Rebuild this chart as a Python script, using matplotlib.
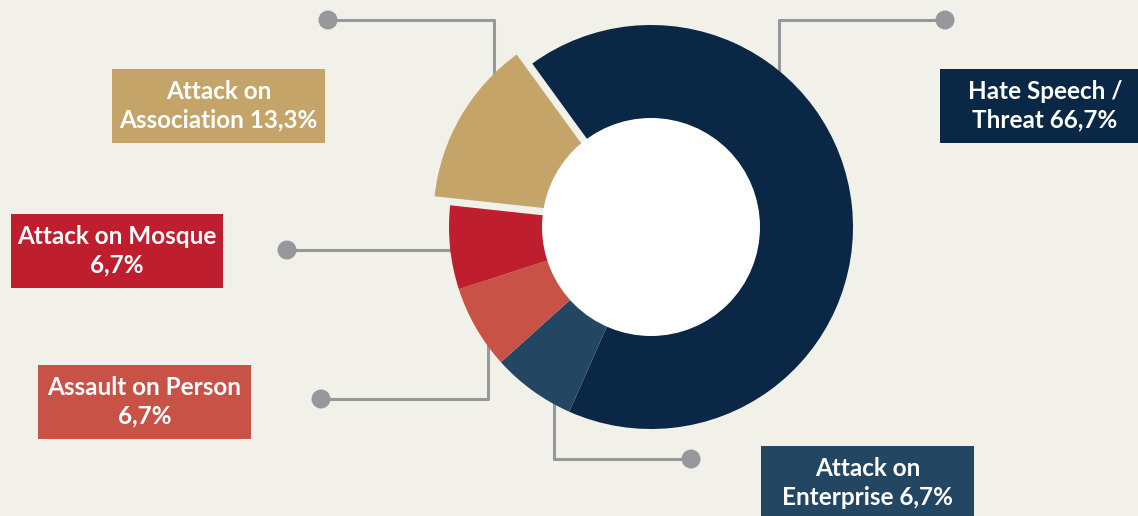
import matplotlib
matplotlib.use("Agg")
import matplotlib.pyplot as plt
from matplotlib.patches import Rectangle, Circle

# ---- data ----
categories = ["Hate Speech / Threat", "Attack on Enterprise", "Assault on Person",
              "Attack on Mosque", "Attack on Association"]
values = [66.7, 6.7, 6.7, 6.7, 13.3]
labels = ["Hate Speech /\nThreat 66,7%", "Attack on\nEnterprise 6,7%",
          "Assault on Person\n6,7%", "Attack on Mosque\n6,7%",
          "Attack on\nAssociation 13,3%"]
colors = ["#0A2745", "#234763", "#C85246", "#BE1E2D", "#C4A468"]

# ---- style ----
EXPLODE_PX = [0, 0, 0, 0, 18]
W, H = 1138, 516
BG = "#F1F0E9"
GRAY = "#97989C"

fig = plt.figure(figsize=(W / 100, H / 100), dpi=100, facecolor=BG)
ax = fig.add_axes([0, 0, 1, 1])
ax.set_facecolor(BG)

def Y(y):  # image y (top-down) -> data y
    return H - y

cx, cy, R, r_in = 651, Y(227), 202, 109

ax.pie(values, colors=colors, startangle=126, counterclock=False,
       explode=EXPLODE_PX, center=(cx, cy), radius=R, frame=True,
       wedgeprops=dict(linewidth=0, zorder=3))
ax.add_patch(Circle((cx, cy), r_in, facecolor="white", edgecolor="none", zorder=4))

# connectors: polylines in image coords, dot at first point
connectors = [
    [(945, 20), (779, 20), (779, 80)],        # hate speech
    [(691, 459), (554, 459), (554, 400)],     # enterprise
    [(321, 399), (488, 399), (488, 340)],     # person
    [(287, 250), (458, 250)],                 # mosque
    [(328, 20), (494, 20), (494, 80)],        # association
]
for pts in connectors:
    xs = [p[0] for p in pts]
    ys = [Y(p[1]) for p in pts]
    ax.plot(xs, ys, color=GRAY, lw=2.2, solid_capstyle="butt", zorder=1)
    ax.add_patch(Circle((xs[0], ys[0]), 9.5, facecolor=GRAY, edgecolor="none", zorder=2))

# label boxes (image coords: x0, y0, x1, y1)
boxes = [
    (940, 69, 1150, 143),
    (761, 446, 974, 520),
    (38, 365, 251, 439),
    (11, 214, 223, 288),
    (112, 69, 325, 143),
]
for (x0, y0, x1, y1), lab, col in zip(boxes, labels, colors):
    ax.add_patch(Rectangle((x0, Y(y1)), x1 - x0, y1 - y0, facecolor=col,
                           edgecolor="none", zorder=5))
    ax.text((x0 + x1) / 2, Y((y0 + y1) / 2), lab, color="white", ha="center",
            va="center", multialignment="center", fontsize=17.5,
            fontweight="bold", family=["Lato", "DejaVu Sans"], linespacing=1.3,
            zorder=6)

ax.set_xlim(0, W)
ax.set_ylim(0, H)
ax.set_aspect("equal")
ax.axis("off")
fig.savefig("out.png", dpi=100, facecolor=BG)
